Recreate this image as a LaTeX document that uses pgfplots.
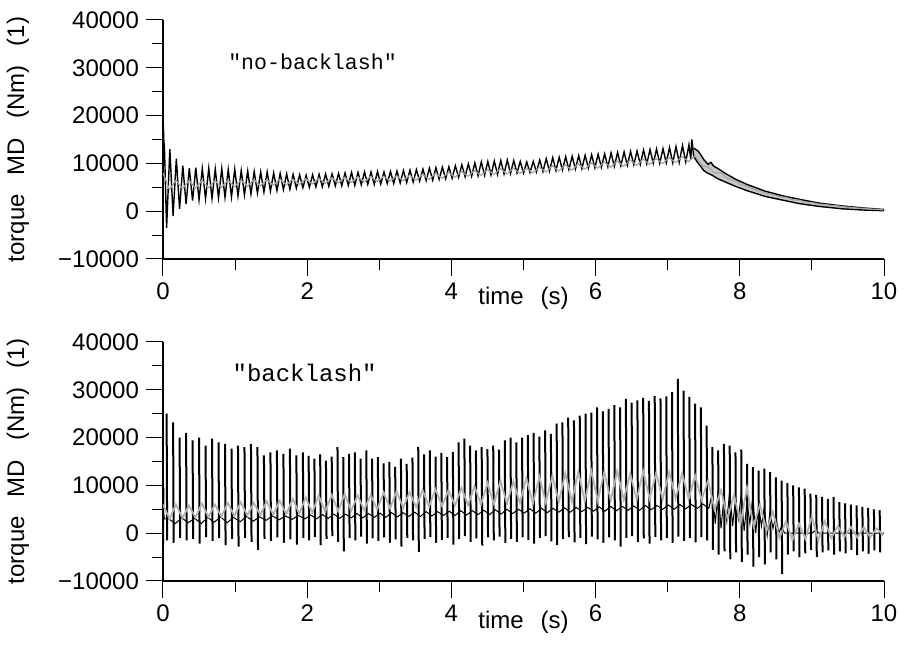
\documentclass[border=0pt]{standalone}
\usepackage{fontspec}
\setmainfont{Liberation Sans}
\setmonofont{Liberation Mono}
\usepackage{pgfplots}
\pgfplotsset{compat=1.18}
\pgfplotsset{
  tqstyle/.style={
    scale only axis, width=360.5pt, height=119.5pt,
    xmin=0, xmax=10, ymin=-10000, ymax=40000,
    axis x line=bottom, axis y line=left,
    axis line style={-, line width=0.6pt},
    tick align=outside,
    major tick length=8.5pt, minor tick length=5.5pt,
    tick style={line width=0.5pt, black},
    scaled ticks=false,
    unbounded coords=jump,
    xtick={0,2,4,6,8,10}, xticklabels={0,2,4,6,8,10},
    minor xtick={1,3,5,7,9},
    ytick={-10000,0,10000,20000,30000,40000},
    yticklabels={−10000,0,10000,20000,30000,40000},
    minor ytick={-5000,5000,15000,25000,35000},
    ticklabel style={font=\fontsize{12}{14}\selectfont},
    label style={font=\fontsize{12}{14}\selectfont},
    ylabel={torque\hspace{0.8em}MD\hspace{0.8em}(Nm)\hspace{0.8em}(1)},
    ylabel style={at={(axis description cs:-0.2011,0.5)}, anchor=center},
    xlabel={time\hspace{0.7em}(s)},
  },
  blk/.style={black, line width=0.7pt},
  gry/.style={black!35, line width=0.6pt},
}
\begin{document}
\begin{tikzpicture}
\path[use as bounding box] (0,0) rectangle (453pt,331.5pt);
% ---------------- top: no-backlash
\begin{axis}[tqstyle, at={(81.5pt,202pt)}, anchor=south west,
  xlabel style={at={(axis description cs:0.5,-0.163)}, anchor=center}]
\addplot[fill=black!22, draw=none] coordinates {
(7.36,13200)(7.42,12600)(7.46,11800)(7.5,10800)(7.56,9800)(7.6,10200)(7.64,9400)(7.7,8900)(7.8,7900)(7.94,6700)(8.1,5600)(8.35,4200)(8.6,3200)(8.82,2500)(9.1,1700)(9.42,1100)(9.7,700)(10,350)
(10,100)(9.7,250)(9.42,500)(9.1,1000)(8.82,1600)(8.6,2300)(8.35,3100)(8.1,4300)(7.94,5200)(7.8,6100)(7.68,6900)(7.62,7500)(7.55,8000)(7.5,8500)(7.45,9500)(7.40,10500)(7.36,11500)
};
\addplot[blk] coordinates {
(0,14000)(0.005,18000)(0.012,14500)(0.02,13500)(0.05,-3500)(0.095,13000)(0.14,-1000)(0.185,11000)(0.23,500)(0.275,9500)(0.32,1500)(0.365,9000)(0.41,2200)
(0.455,9100)(0.50,2400)(0.545,8900)(0.59,2600)(0.635,9000)(0.68,2700)(0.725,8800)(0.77,2800)(0.815,8900)(0.86,2900)(0.905,8700)(0.95,3000)
(0.995,8800)(1.04,3200)(1.085,8500)(1.13,3400)(1.175,8400)(1.22,3600)(1.265,8300)(1.31,3800)(1.355,8200)(1.40,4000)(1.445,8200)(1.49,4200)
(1.535,8000)(1.58,4300)(1.625,7900)(1.67,4500)(1.715,7800)(1.76,4600)(1.805,7700)(1.85,4800)(1.895,7600)(1.94,4900)(1.985,7500)(2.03,5000)
(2.075,7600)(2.12,5100)(2.165,7700)(2.21,5100)(2.255,7800)(2.30,5200)(2.345,7800)(2.39,5300)(2.435,7900)(2.48,5300)(2.525,8000)(2.57,5400)
(2.615,8100)(2.66,5400)(2.705,8100)(2.75,5500)(2.795,8200)(2.84,5600)(2.885,8200)(2.93,5600)(2.975,8300)(3.02,5700)(3.065,8200)(3.11,5800)
(3.155,8300)(3.20,5800)(3.245,8400)(3.29,5900)(3.335,8500)(3.38,6000)(3.425,8600)(3.47,6100)(3.515,8700)(3.56,6300)(3.605,8800)(3.65,6400)
(3.695,9000)(3.74,6500)(3.785,9100)(3.83,6700)(3.875,9200)(3.92,6800)(3.965,9300)(4.01,6900)(4.055,9500)(4.10,7100)(4.145,9700)(4.19,7200)
(4.235,9900)(4.28,7300)(4.325,10100)(4.37,7400)(4.415,10300)(4.46,7500)(4.505,10400)(4.55,7600)(4.595,10500)(4.64,7700)(4.685,10600)(4.73,7800)
(4.775,10700)(4.82,7900)(4.865,10600)(4.91,8000)(4.955,10400)(5.00,8000)(5.045,10300)(5.09,8100)(5.135,10400)(5.18,8200)(5.225,10700)(5.27,8300)
(5.315,11000)(5.36,8400)(5.405,11200)(5.45,8500)(5.495,11300)(5.54,8600)(5.585,11400)(5.63,8700)(5.675,11500)(5.72,8800)(5.765,11600)(5.81,8900)
(5.855,11700)(5.90,9000)(5.945,11800)(5.99,9100)(6.035,11900)(6.08,9200)(6.125,12000)(6.17,9300)(6.215,12200)(6.26,9400)(6.305,12300)(6.35,9500)
(6.395,12400)(6.44,9600)(6.485,12500)(6.53,9700)(6.575,12600)(6.62,9800)(6.665,12800)(6.71,9900)(6.755,12900)(6.80,10000)(6.845,13000)(6.89,10000)
(6.935,13100)(6.98,10100)(7.025,13300)(7.07,10100)(7.115,13500)(7.16,10200)(7.205,13700)(7.25,10300)(7.295,13900)(7.32,10800)(7.335,15000)(7.36,11500)
(7.40,10500)(7.45,9500)(7.5,8500)(7.55,8000)(7.62,7500)(7.68,6900)(7.8,6100)(7.94,5200)(8.1,4300)(8.35,3100)(8.6,2300)(8.82,1600)(9.1,1000)(9.42,500)(9.7,250)(10,100)
};
\addplot[blk] coordinates {
(7.36,13200)(7.42,12600)(7.46,11800)(7.5,10800)(7.56,9800)(7.6,10200)(7.64,9400)(7.7,8900)(7.8,7900)(7.94,6700)(8.1,5600)(8.35,4200)(8.6,3200)(8.82,2500)(9.1,1700)(9.42,1100)(9.7,700)(10,350)
};
\addplot[gry] coordinates {
(0,8000)(0.09,4500)(0.18,6500)(0.27,4700)(0.36,6400)(0.45,4800)(0.54,6400)(0.63,4900)(0.72,6400)(0.81,5000)(0.90,6500)(0.99,5100)
(1.08,6500)(1.17,5200)(1.26,6600)(1.35,5300)(1.44,6600)(1.53,5400)(1.62,6700)(1.71,5500)(1.80,6700)(1.89,5600)(1.98,6800)(2.07,5700)
(2.16,6900)(2.25,5800)(2.34,7000)(2.43,5900)(2.52,7100)(2.61,6000)(2.70,7200)(2.79,6100)(2.88,7300)(2.97,6200)(3.06,7300)(3.15,6300)
(3.24,7400)(3.33,6400)(3.42,7500)(3.51,6500)(3.60,7700)(3.69,6700)(3.78,7900)(3.87,6900)(3.96,8100)(4.05,7100)(4.14,8300)(4.23,7300)
(4.32,8500)(4.41,7500)(4.50,8700)(4.59,7700)(4.68,8900)(4.77,7800)(4.86,9000)(4.95,7900)(5.04,9000)(5.13,8000)(5.22,9200)(5.31,8200)
(5.40,9500)(5.49,8400)(5.58,9700)(5.67,8600)(5.76,9900)(5.85,8800)(5.94,10100)(6.03,9000)(6.12,10300)(6.21,9200)(6.30,10500)(6.39,9400)
(6.48,10700)(6.57,9600)(6.66,10900)(6.75,9800)(6.84,11000)(6.93,10000)(7.02,11200)(7.11,10200)(7.20,11400)(7.29,10400)(7.38,11600)(7.47,9600)
(7.56,9200)(7.65,8000)(7.74,8000)(7.83,6800)(7.92,6400)(8.01,5600)(8.10,5200)(8.19,4600)(8.28,4200)(8.37,3700)(8.46,3500)(8.55,3000)
(8.64,2900)(8.73,2400)(8.82,2300)(8.91,1900)(9.00,1800)(9.09,1500)(9.18,1400)(9.27,1200)(9.36,1100)(9.45,900)(9.54,800)(9.63,650)
(9.72,600)(9.81,450)(9.90,400)(9.99,250)
};
\node[anchor=west, inner sep=0pt, font=\ttfamily\fontsize{10.8}{13}\selectfont] at (axis cs:0.9,31200) {"no-backlash"};
\end{axis}
% ---------------- bottom: backlash
\begin{axis}[tqstyle, at={(81.5pt,41pt)}, anchor=south west,
  xlabel style={at={(axis description cs:0.5,-0.171)}, anchor=center}]
% baseline between the spikes
\addplot[black, line width=0.5pt] coordinates {
(0,5000)(0.02,3000)
(0.08,3000)(0.17,2000)(0.26,3200)(0.35,2200)(0.44,3100)(0.53,2000)(0.62,3300)(0.71,2300)(0.80,3400)(0.89,2200)(0.98,3300)
(1.07,2400)(1.16,3500)(1.25,2500)(1.34,3400)(1.43,2700)(1.52,3600)(1.61,2800)(1.70,3600)(1.79,2900)(1.88,3700)(1.97,3000)
(2.05,3800)(2.13,3000)(2.21,3900)(2.29,3100)(2.37,4000)(2.45,3100)(2.53,4000)(2.61,3200)(2.69,4100)(2.77,3200)(2.85,4100)(2.93,3300)
(3.01,4200)(3.09,3300)(3.17,4300)(3.25,3400)(3.33,4300)(3.41,3500)(3.49,4400)(3.57,3500)(3.65,4500)(3.73,3600)(3.81,4500)(3.89,3700)
(3.97,4600)(4.05,3700)(4.13,4700)(4.21,3800)(4.29,4700)(4.37,3900)(4.45,4800)(4.53,3900)(4.61,4900)(4.69,4000)(4.77,5000)(4.85,4100)
(4.93,5000)(5.01,4200)(5.09,5100)(5.17,4200)(5.25,5200)(5.33,4300)(5.41,5200)(5.49,4400)(5.57,5300)(5.65,4400)(5.73,5400)(5.81,4500)
(5.89,5400)(5.97,4600)(6.05,5500)(6.13,4600)(6.21,5600)(6.29,4700)(6.37,5600)(6.45,4800)(6.53,5700)(6.61,4800)(6.69,5800)(6.77,4900)
(6.85,5800)(6.93,5000)(7.01,5900)(7.09,5000)(7.17,6000)(7.25,5100)(7.33,6000)(7.41,5200)(7.49,6100)(7.57,5200)
(7.62,8500)(7.66,2000)(7.70,9000)(7.74,1000)(7.78,7500)(7.82,2500)(7.86,8800)(7.90,1500)(7.94,7000)(7.98,3000)(8.02,8200)(8.06,500)
(8.10,6500)(8.14,2000)(8.18,7500)(8.22,0)(8.26,6000)(8.30,1500)(8.34,5500)(8.38,-500)(8.42,4500)(8.46,1000)(8.50,3500)(8.54,0)
(8.58,1500)(8.62,0)(9.0,0)(9.05,600)(9.1,0)(10,0)
};
% spikes
\addplot[black, line width=1.0pt] coordinates {
(0,-2500)(0.005,9500)(0.006,nan)
(0.05,25000)(0.058,-1500)(0.059,nan)(0.14,23200)(0.148,-2000)(0.149,nan)(0.23,20000)(0.238,-1000)(0.239,nan)
(0.32,21000)(0.328,-1500)(0.329,nan)(0.41,19400)(0.418,-1200)(0.419,nan)(0.50,20000)(0.508,-2200)(0.509,nan)
(0.59,18300)(0.598,-800)(0.599,nan)(0.68,19800)(0.688,-1600)(0.689,nan)(0.77,19000)(0.778,-1000)(0.779,nan)
(0.86,18700)(0.868,-2500)(0.869,nan)(0.95,17700)(0.958,-1200)(0.959,nan)(1.04,18300)(1.048,-2800)(1.049,nan)
(1.13,18000)(1.138,-1000)(1.139,nan)(1.22,18700)(1.228,-1800)(1.229,nan)(1.31,18000)(1.318,-3500)(1.319,nan)
(1.40,16300)(1.408,-1200)(1.409,nan)(1.49,16900)(1.498,-1600)(1.499,nan)(1.58,17300)(1.588,-900)(1.589,nan)
(1.67,16600)(1.678,-2000)(1.679,nan)(1.76,17700)(1.768,-1300)(1.769,nan)(1.85,16300)(1.858,-2400)(1.859,nan)
(1.94,16900)(1.948,-1000)(1.949,nan)
(2.02,16200)(2.028,-1500)(2.029,nan)(2.10,15600)(2.108,-800)(2.109,nan)(2.18,16500)(2.188,-2500)(2.189,nan)
(2.26,15200)(2.268,-1200)(2.269,nan)(2.34,16000)(2.348,-600)(2.349,nan)(2.42,18000)(2.428,-1800)(2.429,nan)
(2.50,15900)(2.508,-3800)(2.509,nan)(2.58,16600)(2.588,-1000)(2.589,nan)(2.66,16900)(2.668,-1500)(2.669,nan)
(2.74,15600)(2.748,-700)(2.749,nan)(2.82,17300)(2.828,-2200)(2.829,nan)(2.90,15600)(2.908,-1100)(2.909,nan)
(2.98,15900)(2.988,-1600)(2.989,nan)(3.06,14600)(3.068,-900)(3.069,nan)(3.14,14900)(3.148,-2000)(3.149,nan)
(3.22,13900)(3.228,-1300)(3.229,nan)(3.30,15600)(3.308,-2800)(3.309,nan)(3.38,14500)(3.388,-1000)(3.389,nan)
(3.46,15800)(3.468,-1500)(3.469,nan)(3.54,18000)(3.548,-3900)(3.549,nan)(3.62,16500)(3.628,-1200)(3.629,nan)
(3.70,17300)(3.708,-800)(3.709,nan)(3.78,16000)(3.788,-2000)(3.789,nan)(3.86,16800)(3.868,-1400)(3.869,nan)
(3.94,15900)(3.948,-1000)(3.949,nan)(4.02,17000)(4.028,-2400)(4.029,nan)(4.10,19000)(4.108,-1200)(4.109,nan)
(4.18,19800)(4.188,-600)(4.189,nan)(4.26,18300)(4.268,-1800)(4.269,nan)(4.34,17300)(4.348,-1100)(4.349,nan)
(4.42,18000)(4.428,-2600)(4.429,nan)(4.50,17600)(4.508,-900)(4.509,nan)(4.58,18300)(4.588,-1500)(4.589,nan)
(4.66,17500)(4.668,-700)(4.669,nan)(4.74,19400)(4.748,-2000)(4.749,nan)(4.82,20000)(4.828,-1200)(4.829,nan)
(4.90,19000)(4.908,-1800)(4.909,nan)(4.98,20000)(4.988,-900)(4.989,nan)(5.06,20500)(5.068,-1400)(5.069,nan)
(5.14,21000)(5.148,-2200)(5.149,nan)(5.22,20200)(5.228,-1000)(5.229,nan)(5.30,21500)(5.308,-600)(5.309,nan)
(5.38,20800)(5.388,-1700)(5.389,nan)(5.46,22900)(5.468,-2500)(5.469,nan)(5.54,23200)(5.548,-1200)(5.549,nan)
(5.62,24200)(5.628,-800)(5.629,nan)(5.70,23600)(5.708,-1900)(5.709,nan)(5.78,24600)(5.788,-1000)(5.789,nan)
(5.86,25000)(5.868,-2300)(5.869,nan)(5.94,25200)(5.948,-700)(5.949,nan)(6.02,26300)(6.028,-1300)(6.029,nan)
(6.10,25500)(6.108,-2000)(6.109,nan)(6.18,26000)(6.188,-900)(6.189,nan)(6.26,26800)(6.268,-1500)(6.269,nan)
(6.34,26300)(6.348,-2800)(6.349,nan)(6.42,28100)(6.428,-1000)(6.429,nan)(6.50,27300)(6.508,-600)(6.509,nan)
(6.58,27800)(6.588,-1800)(6.589,nan)(6.66,28300)(6.668,-1100)(6.669,nan)(6.74,27700)(6.748,-2200)(6.749,nan)
(6.82,28700)(6.828,-800)(6.829,nan)(6.90,28200)(6.908,-1500)(6.909,nan)(6.98,28600)(6.988,-1000)(6.989,nan)
(7.06,29500)(7.068,-2000)(7.069,nan)(7.14,32300)(7.148,-700)(7.149,nan)(7.22,29800)(7.228,-1600)(7.229,nan)
(7.30,28500)(7.308,-1000)(7.309,nan)(7.38,27100)(7.388,-1900)(7.389,nan)(7.46,26300)(7.468,-800)(7.469,nan)
(7.54,22500)(7.548,-1500)(7.549,nan)(7.62,18000)(7.628,-3500)(7.629,nan)(7.70,17300)(7.708,-4500)(7.709,nan)
(7.78,18700)(7.788,-3800)(7.789,nan)(7.86,18300)(7.868,-5500)(7.869,nan)(7.94,16900)(7.948,-4000)(7.949,nan)
(8.02,17500)(8.028,-6000)(8.029,nan)(8.10,14500)(8.108,-4500)(8.109,nan)(8.18,13800)(8.188,-7000)(8.189,nan)
(8.26,13100)(8.268,-5000)(8.269,nan)(8.34,13500)(8.348,-6500)(8.349,nan)(8.42,12800)(8.428,-4000)(8.429,nan)
(8.50,11700)(8.508,-5500)(8.509,nan)(8.58,11000)(8.588,-8500)(8.589,nan)(8.66,10500)(8.668,-4500)(8.669,nan)
(8.74,10000)(8.748,-3800)(8.749,nan)(8.82,9600)(8.828,-5000)(8.829,nan)(8.90,9300)(8.908,-4200)(8.909,nan)
(8.98,8300)(8.988,-3500)(8.989,nan)(9.06,8000)(9.068,-5000)(9.069,nan)(9.14,7600)(9.148,-4000)(9.149,nan)
(9.22,7200)(9.228,-3600)(9.229,nan)(9.30,7600)(9.308,-4500)(9.309,nan)(9.38,6500)(9.388,-3800)(9.389,nan)
(9.46,6250)(9.468,-4200)(9.469,nan)(9.54,6000)(9.548,-3500)(9.549,nan)(9.62,5800)(9.628,-4600)(9.629,nan)
(9.70,5500)(9.708,-3800)(9.709,nan)(9.78,5300)(9.788,-4300)(9.789,nan)(9.86,5000)(9.868,-3600)(9.869,nan)
(9.94,4800)(9.948,-4000)
};
\addplot[black!30, line width=0.9pt] coordinates {
(0,6000)(0.09,3000)(0.18,6000)(0.27,3200)(0.36,5800)(0.45,3300)(0.54,6200)(0.63,3400)(0.72,6000)(0.81,3500)(0.90,6300)(0.99,3600)
(1.08,6500)(1.17,3700)(1.26,6400)(1.35,3800)(1.44,6700)(1.53,3900)(1.62,6800)(1.71,4000)(1.80,7200)(1.89,4100)(1.98,7500)(2.07,4300)
(2.16,7800)(2.25,4500)(2.34,8000)(2.43,4600)(2.52,8200)(2.61,4700)(2.70,7900)(2.79,4800)(2.88,8000)(2.97,5000)(3.06,8500)(3.15,5200)
(3.24,8800)(3.33,5300)(3.42,8600)(3.51,5500)(3.60,9000)(3.69,5600)(3.78,9200)(3.87,5700)(3.96,9000)(4.05,5800)(4.14,9500)(4.23,5900)
(4.32,9800)(4.41,6000)(4.50,10500)(4.59,6100)(4.68,11000)(4.77,6200)(4.86,10800)(4.95,6300)(5.04,11500)(5.13,6200)(5.22,11800)(5.31,6400)
(5.40,12000)(5.49,6500)(5.58,12500)(5.67,6600)(5.76,12800)(5.85,6700)(5.94,13000)(6.03,6800)(6.12,12800)(6.21,6900)(6.30,13000)(6.39,7000)
(6.48,12500)(6.57,7000)(6.66,13000)(6.75,7200)(6.84,12600)(6.93,7100)(7.02,12800)(7.11,7300)(7.20,12500)(7.29,7200)(7.38,12000)(7.47,7000)
(7.56,11000)(7.65,5000)(7.74,9000)(7.83,3000)(7.92,8000)(8.01,2000)(8.10,9500)(8.19,1500)(8.28,6000)(8.37,500)(8.46,4500)(8.55,-1000)
(8.64,2500)(8.73,-1500)(8.82,2000)(8.91,-1200)(9.00,3500)(9.09,-1500)(9.18,2500)(9.27,-1000)(9.36,1500)(9.45,-800)(9.54,1300)(9.63,-900)
(9.72,1200)(9.81,-800)(9.90,1000)(9.99,-500)
};
\node[anchor=west, inner sep=0pt, font=\ttfamily\fontsize{12}{14}\selectfont] at (axis cs:0.96,33600) {"backlash"};
\end{axis}
\end{tikzpicture}
\end{document}
